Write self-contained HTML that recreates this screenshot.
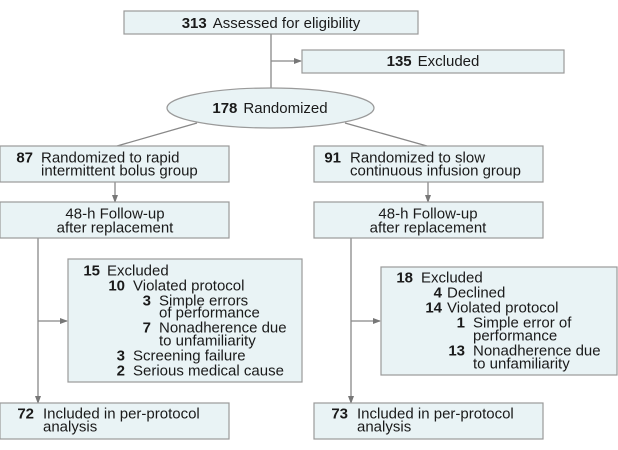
<!DOCTYPE html>
<html><head><meta charset="utf-8"><style>
html,body{margin:0;padding:0;background:#fff;}
svg{display:block;font-family:"Liberation Sans",sans-serif;}
.bx{fill:#e9f3f5;stroke:#9a9a9a;stroke-width:1.2;}
.ln{stroke:#888;stroke-width:1.3;fill:none;}
text{font-size:15px;fill:#1a1a1a;dominant-baseline:central;}
.n{font-weight:bold;text-anchor:end;}
.c{text-anchor:middle;}
</style></head><body>
<svg width="618" height="450" viewBox="0 0 618 450">
<defs><marker id="ah" markerWidth="8" markerHeight="6" refX="7" refY="3" orient="auto" markerUnits="userSpaceOnUse"><path d="M0,0 L8,3 L0,6 z" fill="#777"/></marker></defs>
<g>
<line class="ln" x1="271" y1="34" x2="271" y2="88"/>
<line class="ln" x1="271" y1="61" x2="301" y2="61" marker-end="url(#ah)"/>
<line class="ln" x1="197" y1="123" x2="117" y2="146"/>
<line class="ln" x1="345" y1="123" x2="427" y2="146"/>
<line class="ln" x1="115" y1="182" x2="115" y2="202" marker-end="url(#ah)"/>
<line class="ln" x1="428" y1="182" x2="428" y2="202" marker-end="url(#ah)"/>
<line class="ln" x1="38" y1="238" x2="38" y2="403" marker-end="url(#ah)"/>
<line class="ln" x1="38" y1="321" x2="67" y2="321" marker-end="url(#ah)"/>
<line class="ln" x1="351" y1="238" x2="351" y2="403" marker-end="url(#ah)"/>
<line class="ln" x1="351" y1="321" x2="380" y2="321" marker-end="url(#ah)"/>
</g>
<g>
<rect class="bx" x="124" y="11" width="294" height="23"/>
<text x="271" y="23" class="c"><tspan font-weight="bold">313</tspan><tspan dx="6">Assessed for eligibility</tspan></text>
</g>
<g>
<rect class="bx" x="302" y="50" width="262" height="23"/>
<text x="433" y="61" class="c"><tspan font-weight="bold">135</tspan><tspan dx="6">Excluded</tspan></text>
</g>
<g>
<ellipse class="bx" cx="270.5" cy="108" rx="103.5" ry="20"/>
<text x="270" y="108" class="c"><tspan font-weight="bold">178</tspan><tspan dx="6">Randomized</tspan></text>
</g>
<g>
<rect class="bx" x="0" y="146" width="229" height="36"/>
<text x="33" y="158" class="n">87</text>
<text x="41" y="158">Randomized to rapid</text>
<text x="41" y="171">intermittent bolus group</text>
</g>
<g>
<rect class="bx" x="314" y="146" width="229" height="36"/>
<text x="341" y="158" class="n">91</text>
<text x="350" y="158">Randomized to slow</text>
<text x="350" y="171">continuous infusion group</text>
</g>
<g>
<rect class="bx" x="0" y="202" width="229" height="36"/>
<text x="115" y="214" class="c">48-h Follow-up</text>
<text x="115" y="228" class="c">after replacement</text>
</g>
<g>
<rect class="bx" x="314" y="202" width="229" height="36"/>
<text x="428" y="214" class="c">48-h Follow-up</text>
<text x="428" y="228" class="c">after replacement</text>
</g>
<g>
<rect class="bx" x="68" y="259" width="234" height="123"/>
<text x="100" y="271" class="n">15</text><text x="107" y="271">Excluded</text>
<text x="125" y="286" class="n">10</text><text x="133" y="286">Violated protocol</text>
<text x="151" y="301" class="n">3</text><text x="159" y="301">Simple errors</text>
<text x="159" y="313">of performance</text>
<text x="151" y="328" class="n">7</text><text x="159" y="328">Nonadherence due</text>
<text x="159" y="341">to unfamiliarity</text>
<text x="125" y="356" class="n">3</text><text x="133" y="356">Screening failure</text>
<text x="125" y="371" class="n">2</text><text x="133" y="371">Serious medical cause</text>
</g>
<g>
<rect class="bx" x="381" y="267" width="236" height="108"/>
<text x="413" y="278" class="n">18</text><text x="421" y="278">Excluded</text>
<text x="442" y="293" class="n">4</text><text x="447" y="293">Declined</text>
<text x="442" y="308" class="n">14</text><text x="447" y="308">Violated protocol</text>
<text x="465" y="323" class="n">1</text><text x="473" y="323">Simple error of</text>
<text x="473" y="336">performance</text>
<text x="465" y="351" class="n">13</text><text x="473" y="351">Nonadherence due</text>
<text x="473" y="364">to unfamiliarity</text>
</g>
<g>
<rect class="bx" x="0" y="403" width="229" height="36"/>
<text x="34" y="414" class="n">72</text>
<text x="43" y="414">Included in per-protocol</text>
<text x="43" y="427">analysis</text>
</g>
<g>
<rect class="bx" x="314" y="403" width="229" height="36"/>
<text x="348" y="414" class="n">73</text>
<text x="357" y="414">Included in per-protocol</text>
<text x="357" y="427">analysis</text>
</g>
</svg>
</body></html>
